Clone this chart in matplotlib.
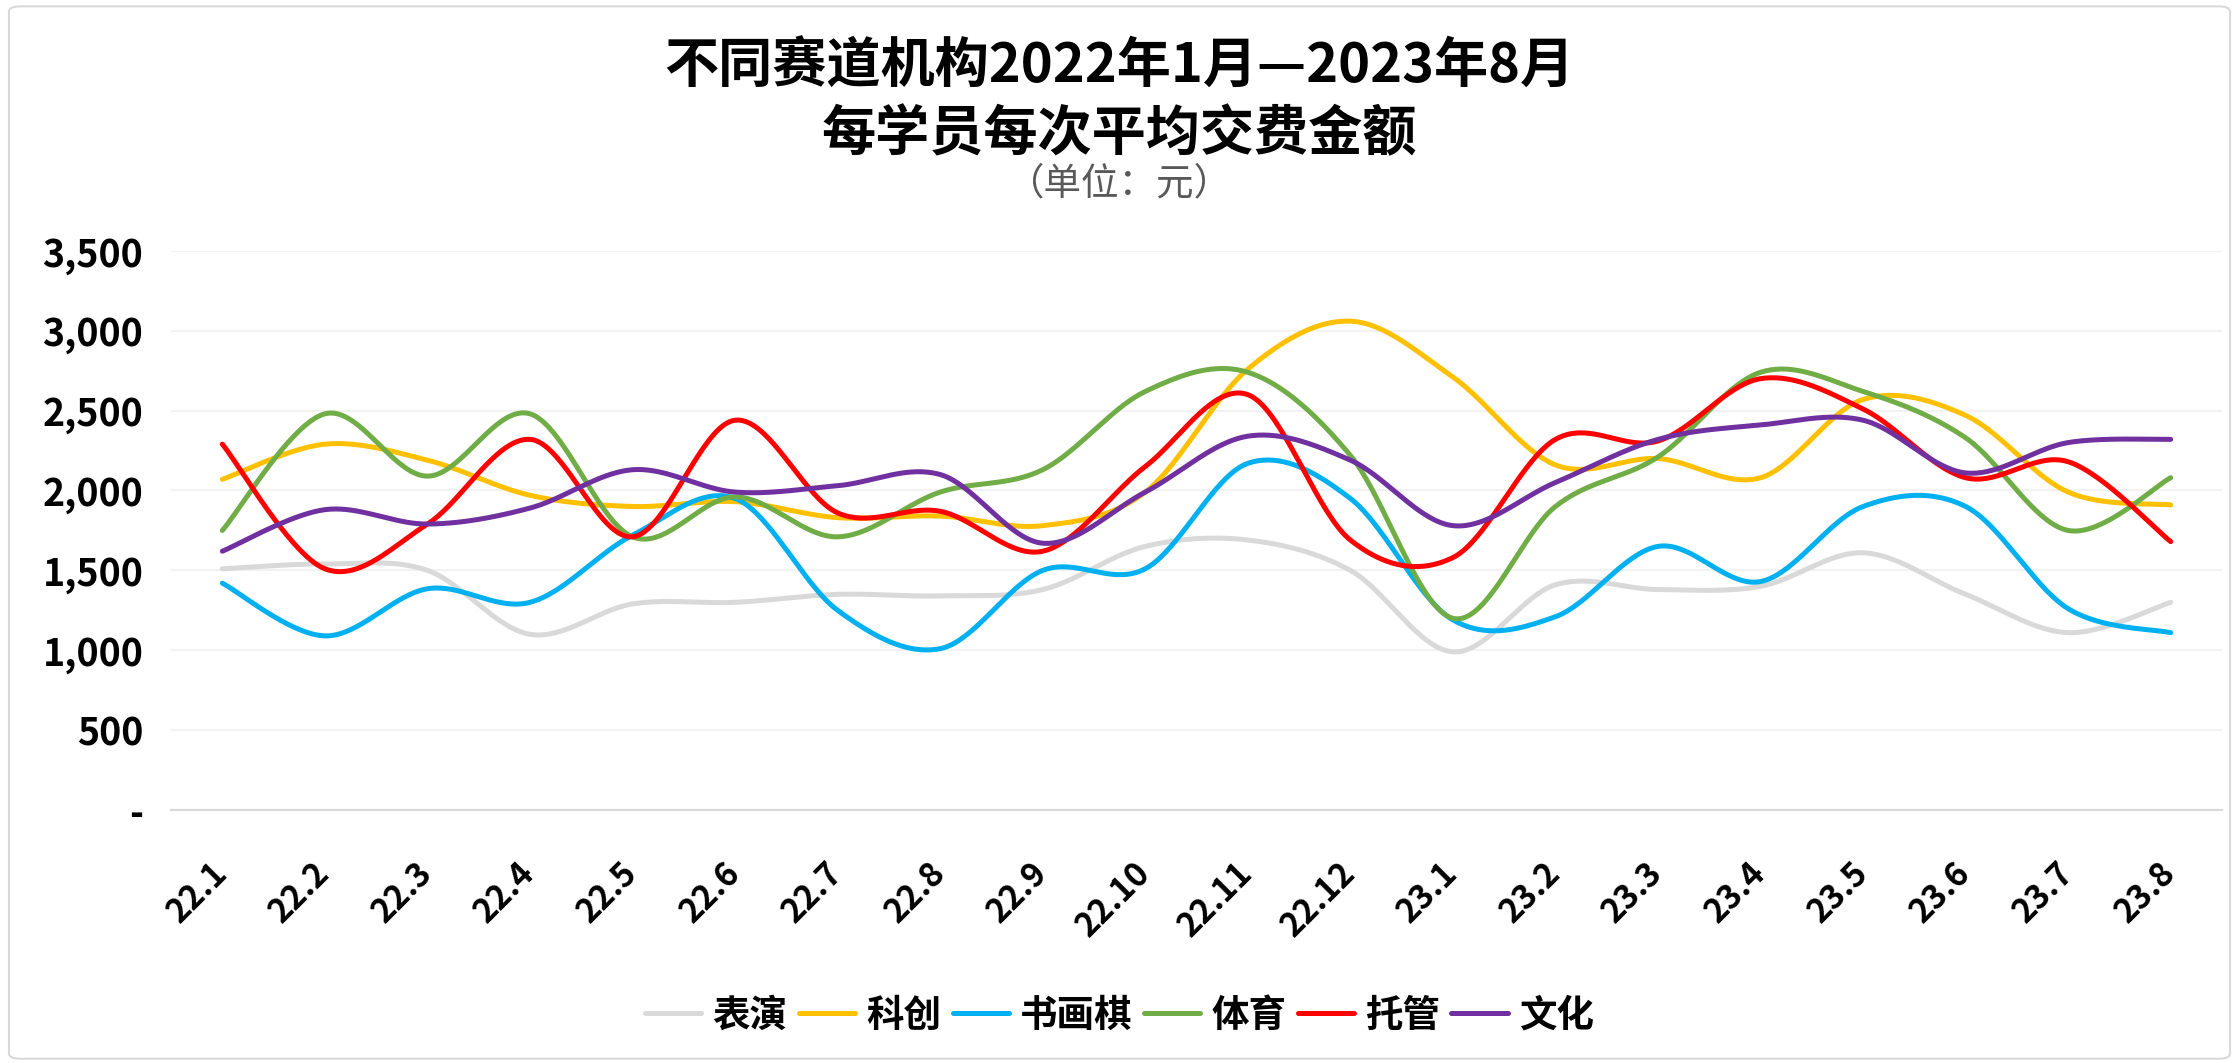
import numpy as np
import matplotlib
matplotlib.use("Agg")
import matplotlib.pyplot as plt
from matplotlib.patches import FancyBboxPatch

plt.rcParams["font.family"] = ["Noto Sans CJK SC", "DejaVu Sans"]

months = ["22.1", "22.2", "22.3", "22.4", "22.5", "22.6", "22.7", "22.8", "22.9", "22.10",
          "22.11", "22.12", "23.1", "23.2", "23.3", "23.4", "23.5", "23.6", "23.7", "23.8"]

biaoyan = [1510, 1540, 1500, 1100, 1290, 1300, 1350, 1340, 1380, 1650,
           1690, 1500, 990, 1410, 1380, 1400, 1610, 1350, 1110, 1300]
kechuang = [2070, 2290, 2190, 1970, 1900, 1930, 1830, 1840, 1780, 1990,
            2760, 3060, 2710, 2160, 2200, 2080, 2570, 2470, 1990, 1910]
shuhuaqi = [1420, 1090, 1385, 1300, 1720, 1950, 1250, 1010, 1500, 1510,
            2170, 1950, 1190, 1210, 1650, 1430, 1900, 1900, 1260, 1110]
tiyu = [1750, 2480, 2090, 2480, 1710, 1960, 1710, 1990, 2130, 2620,
        2740, 2220, 1200, 1900, 2210, 2740, 2620, 2330, 1750, 2080]
tuoguan = [2290, 1510, 1790, 2320, 1710, 2440, 1860, 1870, 1620, 2150,
           2600, 1690, 1580, 2320, 2310, 2700, 2510, 2080, 2180, 1680]
wenhua = [1620, 1880, 1790, 1890, 2130, 1990, 2030, 2100, 1670, 1990,
          2340, 2190, 1780, 2050, 2320, 2410, 2440, 2110, 2300, 2320]

series = [("表演", biaoyan, "#D9D9D9"),
          ("科创", kechuang, "#FFC000"),
          ("书画棋", shuhuaqi, "#00B0F0"),
          ("体育", tiyu, "#70AD47"),
          ("托管", tuoguan, "#FF0000"),
          ("文化", wenhua, "#7030A0")]


def smooth(y, n=40):
    # Excel-style smoothed line: cubic Bezier segments with Catmull-Rom control points
    y = np.asarray(y, float)
    x = np.arange(len(y), dtype=float)
    P = np.column_stack([x, y])
    Pp = np.vstack([P[0], P, P[-1]])
    t = np.linspace(0, 1, n)[:, None]
    out = []
    for i in range(len(P) - 1):
        p0, p1, p2, p3 = Pp[i], Pp[i + 1], Pp[i + 2], Pp[i + 3]
        c1 = p1 + (p2 - p0) / 6
        c2 = p2 - (p3 - p1) / 6
        seg = ((1 - t) ** 3) * p1 + 3 * ((1 - t) ** 2) * t * c1 + 3 * (1 - t) * t ** 2 * c2 + t ** 3 * p2
        out.append(seg if i == 0 else seg[1:])
    s = np.vstack(out)
    return s[:, 0], s[:, 1]


fig = plt.figure(figsize=(22.39, 10.63), dpi=100)
ax = fig.add_axes([0.0764, 0.238, 0.916, 0.526])

for name, vals, col in series:
    xs, ys = smooth(vals)
    ax.plot(xs, ys, color=col, lw=3.6, solid_capstyle="round", label=name)

ax.set_xlim(-0.5, len(months) - 0.5)
ax.set_ylim(0, 3500)
ax.set_yticks(range(0, 3501, 500))
ax.set_yticklabels(["-" if v == 0 else f"{v:,}" for v in range(0, 3501, 500)],
                   fontsize=27, fontweight="bold")
ax.set_xticks(range(len(months)))
ax.set_xticklabels(months, rotation=45, ha="right", va="center", rotation_mode="anchor",
                   fontsize=24, fontweight="bold")
ax.tick_params(axis="y", length=0, pad=20)
ax.tick_params(axis="x", length=0, pad=42)
ax.grid(axis="y", color="#F2F2F2", lw=1.5)
ax.set_axisbelow(True)
for s in ["top", "right", "left"]:
    ax.spines[s].set_visible(False)
ax.spines["bottom"].set_color("#D9D9D9")
ax.spines["bottom"].set_linewidth(1.5)

fig.text(0.5, 0.937, "不同赛道机构2022年1月—2023年8月", ha="center", va="center",
         fontsize=39, fontweight="bold")
fig.text(0.5, 0.873, "每学员每次平均交费金额", ha="center", va="center",
         fontsize=39, fontweight="bold")
fig.text(0.5, 0.827, "（单位：元）", ha="center", va="center", fontsize=27, color="#595959")

fig.legend(loc="center", bbox_to_anchor=(0.5, 1 - 1015 / 1063), ncol=6, frameon=False,
           prop={"size": 27, "weight": "bold"}, handlelength=1.5, handletextpad=0.3,
           columnspacing=0.3)

fig.patches.append(FancyBboxPatch((0.004, 0.004), 0.992, 0.99, boxstyle="round,pad=0,rounding_size=0.005",
                                  transform=fig.transFigure, fill=False, edgecolor="#D9D9D9", lw=1.5))

fig.savefig("out.png", dpi=100, facecolor="white")
